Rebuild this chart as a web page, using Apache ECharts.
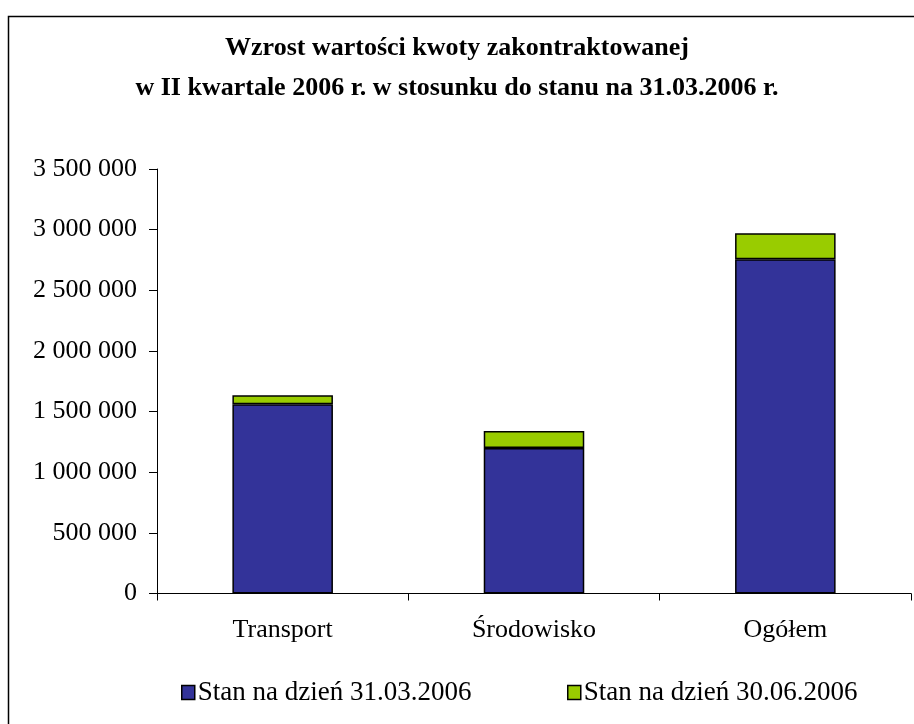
<!DOCTYPE html>
<html><head><meta charset="utf-8">
<script src="https://cdn.jsdelivr.net/npm/echarts@6/dist/echarts.min.js"></script>
<style>html,body{margin:0;padding:0;background:#fff}#c{width:914px;height:724px}</style>
</head><body><div id="c"></div>
<script>
const categories = ['Transport', 'Środowisko', 'Ogółem'];
const seriesNames = ['Stan na dzień 31.03.2006', 'Stan na dzień 30.06.2006'];
const stanMarzec = [1560000, 1200000, 2755000];
const przyrostCzerwiec = [75000, 140000, 215000];
const yTicks = [0, 500000, 1000000, 1500000, 2000000, 2500000, 3000000, 3500000];

const FONT = '"Liberation Serif", "Times New Roman", serif';
const chart = echarts.init(document.getElementById('c'));
const fmt = v => String(v).replace(/\B(?=(\d{3})+(?!\d))/g, ' ');
const legendCommon = { itemWidth: 13, itemHeight: 14, icon: 'rect', itemGap: 0,
  textStyle: { fontFamily: FONT, fontSize: 27, color: '#000', padding: [0, 0, 0, -2] },
  itemStyle: { borderColor: '#000', borderWidth: 1.5 } };
chart.setOption({
  animation: false,
  backgroundColor: '#fff',
  textStyle: { fontFamily: FONT, color: '#000' },
  graphic: [{ type: 'rect', shape: { x: 8.5, y: 16.5, width: 930, height: 730 },
    style: { fill: 'none', stroke: '#000', lineWidth: 1.5 }, silent: true }],
  title: {
    text: 'Wzrost wartości kwoty zakontraktowanej\nw II kwartale 2006 r. w stosunku do stanu na 31.03.2006 r.',
    left: 'center', top: 23,
    textStyle: { fontFamily: FONT, fontWeight: 'bold', fontSize: 26, color: '#000', lineHeight: 40 }
  },
  legend: [
    Object.assign({ data: [seriesNames[0]], left: 176, top: 674 }, legendCommon),
    Object.assign({ data: [seriesNames[1]], left: 562, top: 674 }, legendCommon)
  ],
  grid: { left: 157, right: 3, top: 169, bottom: 130.5, containLabel: false },
  xAxis: {
    type: 'category', data: categories,
    axisLine: { lineStyle: { color: '#000', width: 1 } },
    axisTick: { show: true, length: 7, lineStyle: { color: '#000' } },
    axisLabel: { fontFamily: FONT, fontSize: 26, color: '#000', margin: 24 }
  },
  yAxis: {
    type: 'value', min: yTicks[0], max: yTicks[yTicks.length - 1], interval: 500000,
    axisLine: { show: true, lineStyle: { color: '#000', width: 1 } },
    axisTick: { show: true, length: 8, lineStyle: { color: '#000' } },
    splitLine: { show: false },
    axisLabel: { fontFamily: FONT, fontSize: 26, color: '#000', margin: 20, formatter: fmt }
  },
  series: [
    { name: seriesNames[0], type: 'bar', stack: 's', data: stanMarzec, barWidth: '40%',
      itemStyle: { color: '#333399', borderColor: '#000', borderWidth: 1.5 } },
    { name: seriesNames[1], type: 'bar', stack: 's', data: przyrostCzerwiec, barWidth: '40%',
      itemStyle: { color: '#99CC00', borderColor: '#000', borderWidth: 1.5 } }
  ]
});
</script></body></html>
